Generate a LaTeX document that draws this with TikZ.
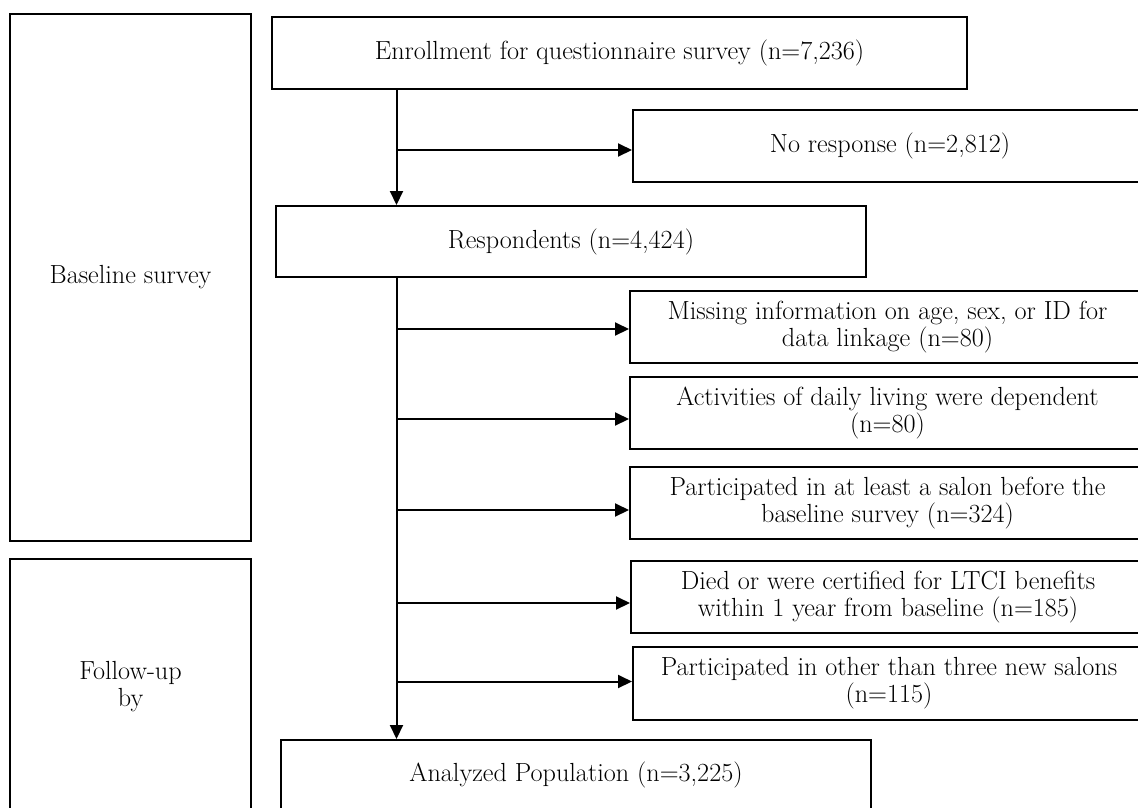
\documentclass[tikz,border=0pt]{standalone}
\usepackage{fontspec}
\usetikzlibrary{arrows.meta}
\begin{document}
\begin{tikzpicture}[x=1pt,y=-1pt,
  box/.style={draw, line width=2pt, inner sep=0pt, align=center, font=\fontsize{26.2}{27}\selectfont},
  arr/.style={line width=2pt, -{Triangle[length=14pt,width=13pt]}}]
\useasboundingbox (0,0) rectangle (1138,807);
\clip (0,0) rectangle (1138,807);
\node[box, minimum width=241pt, minimum height=527pt] (base) at (130.5,277.5) {Baseline survey};
\node[box, minimum width=241pt, minimum height=256pt] (follow) at (130.5,687) {Follow-up\\by};
\node[box, minimum width=695pt, minimum height=72pt] (enr) at (619.5,53) {Enrollment for questionnaire survey (n=7,236)};
\node[box, minimum width=514pt, minimum height=72pt] (nores) at (890,146) {No response (n=2,812)};
\node[box, minimum width=590pt, minimum height=71pt] (resp) at (571,241.5) {Respondents (n=4,424)};
\node[box, minimum width=515pt, minimum height=72pt] (miss) at (887.5,327) {Missing information on age, sex, or ID for\\data linkage (n=80)};
\node[box, minimum width=515pt, minimum height=72pt] (adl) at (887.5,413) {Activities of daily living were dependent\\(n=80)};
\node[box, minimum width=515pt, minimum height=72pt] (prior) at (887.5,503) {Participated in at least a salon before the\\baseline survey (n=324)};
\node[box, minimum width=514pt, minimum height=72pt] (died) at (888,597) {Died or were certified for LTCI benefits\\within 1 year from baseline (n=185)};
\node[box, minimum width=512pt, minimum height=73pt] (other) at (889,683.5) {Participated in other than three new salons\\(n=115)};
\node[box, minimum width=590pt, minimum height=70pt] (anal) at (576,775) {Analyzed Population (n=3,225)};
\coordinate (sp) at (396.5,0);
\draw[arr] (enr.south -| sp) -- (resp.north -| sp);
\draw[arr] ([yshift=-4pt]nores.west -| sp) -- ([yshift=-4pt]nores.west);
\draw[arr] (resp.south -| sp) -- (anal.north -| sp);
\draw[arr] ([yshift=-2pt]miss.west -| sp) -- ([yshift=-2pt]miss.west);
\draw[arr] ([yshift=-6pt]adl.west -| sp) -- ([yshift=-6pt]adl.west);
\draw[arr] ([yshift=-7pt]prior.west -| sp) -- ([yshift=-7pt]prior.west);
\draw[arr] ([yshift=-6pt]died.west -| sp) -- ([yshift=-6pt]died.west);
\draw[arr] ([yshift=2pt]other.west -| sp) -- ([yshift=2pt]other.west);
\end{tikzpicture}
\end{document}
